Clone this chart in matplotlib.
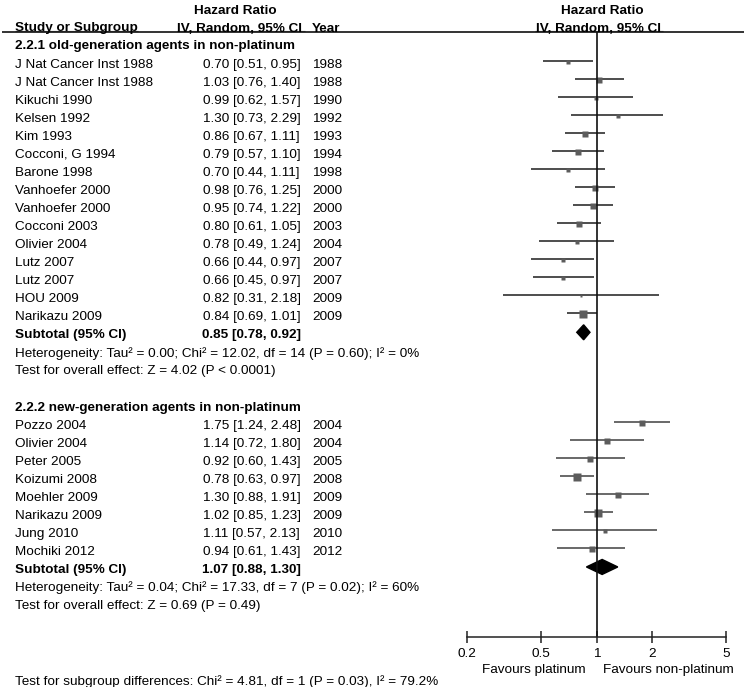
import matplotlib
matplotlib.use("Agg")
import matplotlib.pyplot as plt
from matplotlib.patches import Polygon
from matplotlib.ticker import FixedLocator, FixedFormatter, NullLocator

plt.rcParams['font.family'] = ['Liberation Sans', 'DejaVu Sans']

# ---------------- data ----------------
g1_title = "2.2.1 old-generation agents in non-platinum"
g1_names = ["J Nat Cancer Inst 1988", "J Nat Cancer Inst 1988", "Kikuchi 1990", "Kelsen 1992",
            "Kim 1993", "Cocconi, G 1994", "Barone 1998", "Vanhoefer 2000", "Vanhoefer 2000",
            "Cocconi 2003", "Olivier 2004", "Lutz 2007", "Lutz 2007", "HOU 2009", "Narikazu 2009"]
g1_hr = [0.70, 1.03, 0.99, 1.30, 0.86, 0.79, 0.70, 0.98, 0.95, 0.80, 0.78, 0.66, 0.66, 0.82, 0.84]
g1_lo = [0.51, 0.76, 0.62, 0.73, 0.67, 0.57, 0.44, 0.76, 0.74, 0.61, 0.49, 0.44, 0.45, 0.31, 0.69]
g1_hi = [0.95, 1.40, 1.57, 2.29, 1.11, 1.10, 1.11, 1.25, 1.22, 1.05, 1.24, 0.97, 0.97, 2.18, 1.01]
g1_year = [1988, 1988, 1990, 1992, 1993, 1994, 1998, 2000, 2000, 2003, 2004, 2007, 2007, 2009, 2009]
g1_weight = [3.5, 4.5, 3, 2.5, 5, 4.5, 3, 5, 5, 5, 3, 3, 3, 2, 6.5]
g1_sub = (0.85, 0.78, 0.92)
g1_het = "Heterogeneity: Tau² = 0.00; Chi² = 12.02, df = 14 (P = 0.60); I² = 0%"
g1_test = "Test for overall effect: Z = 4.02 (P < 0.0001)"

g2_title = "2.2.2 new-generation agents in non-platinum"
g2_names = ["Pozzo 2004", "Olivier 2004", "Peter 2005", "Koizumi 2008", "Moehler 2009",
            "Narikazu 2009", "Jung 2010", "Mochiki 2012"]
g2_hr = [1.75, 1.14, 0.92, 0.78, 1.30, 1.02, 1.11, 0.94]
g2_lo = [1.24, 0.72, 0.60, 0.63, 0.88, 0.85, 0.57, 0.61]
g2_hi = [2.48, 1.80, 1.43, 0.97, 1.91, 1.23, 2.13, 1.43]
g2_year = [2004, 2004, 2005, 2008, 2009, 2009, 2010, 2012]
g2_weight = [5, 4, 4, 6.5, 5, 6, 3, 5]
g2_sub = (1.07, 0.88, 1.30)
g2_het = "Heterogeneity: Tau² = 0.04; Chi² = 17.33, df = 7 (P = 0.02); I² = 60%"
g2_test = "Test for overall effect: Z = 0.69 (P = 0.49)"

subgroup_test = "Test for subgroup differences: Chi² = 4.81, df = 1 (P = 0.03), I² = 79.2%"
ticks = [0.2, 0.5, 1, 2, 5]
tick_labels = ["0.2", "0.5", "1", "2", "5"]
fav_left = "Favours platinum"
fav_right = "Favours non-platinum"

# ---------------- layout ----------------
W, H = 747, 687
fig = plt.figure(figsize=(W / 100, H / 100), dpi=100)
tax = fig.add_axes([0, 0, 1, 1])
tax.set_xlim(0, W)
tax.set_ylim(H, 0)
tax.axis('off')

x0, x1 = 467.4, 726.0
fax = fig.add_axes([x0 / W, 0, (x1 - x0) / W, 1])
fax.patch.set_alpha(0)
fax.set_xscale('log')
fax.set_xlim(0.2, 5)
fax.set_ylim(H, 0)

FS = 9.7
TXT = '#000000'
ROW0 = 44.5
STEP = 18.05
DY = 4.0   # marks sit slightly above text centre
TY = 2.0   # text nudge down
AXIS_Y = 637.3
TOP_Y = 32.3


def ry(i):
    return ROW0 + i * STEP


def txt(x, y, s, bold=False, ha='left'):
    return tax.text(x, y + TY, s, fontsize=FS, color=TXT, ha=ha, va='center',
                    fontweight='bold' if bold else 'normal')


# header
txt(235, 9.5, "Hazard Ratio", bold=True, ha='center')
txt(15, 26.5, "Study or Subgroup", bold=True)
txt(177, 26.5, "IV, Random, 95% CI", bold=True)
txt(312, 26.5, "Year", bold=True)
txt(602, 9.5, "Hazard Ratio", bold=True, ha='center')
txt(599, 26.5, "IV, Random, 95% CI", bold=True, ha='center')
tax.plot([2, 744], [TOP_Y, TOP_Y], color='#111', lw=1.2, solid_capstyle='butt')
# underlines of header texts
for xa, xb in [(15, 138), (177, 305), (535, 663)]:
    tax.plot([xa, xb], [30.8, 30.8], color='#222', lw=0.8, solid_capstyle='butt')


def draw_group(start, title, names, hr, lo, hi, years, weight, sub, het, test, lc):
    txt(15, ry(start), title, bold=True)
    for k, (n, e, l, h, yv, w) in enumerate(zip(names, hr, lo, hi, years, weight)):
        y = ry(start + 1 + k)
        txt(15, y, n)
        txt(203, y, f"{e:.2f} [{l:.2f}, {h:.2f}]")
        txt(312, y, str(yv))
        fax.plot([l, h], [y + TY - DY, y + TY - DY], color=lc, lw=1.1,
                 solid_capstyle='butt', clip_on=False)
        fax.plot([e], [y + TY - DY + 1.2], marker='s', ms=w * 0.95, color='#5c5c5c', mec='none',
                 linestyle='none', clip_on=False)
    ys = ry(start + 1 + len(names))
    txt(15, ys, "Subtotal (95% CI)", bold=True)
    txt(202, ys, f"{sub[0]:.2f} [{sub[1]:.2f}, {sub[2]:.2f}]", bold=True)
    yd = ys + TY - DY + 1
    fax.add_patch(Polygon([(sub[1], yd), (sub[0], yd - 7.5), (sub[2], yd), (sub[0], yd + 7.5)],
                          closed=True, color='black', clip_on=False))
    txt(15, ry(start + 2 + len(names)), het)
    txt(15, ry(start + 3 + len(names)), test)


draw_group(0, g1_title, g1_names, g1_hr, g1_lo, g1_hi, g1_year, g1_weight, g1_sub, g1_het, g1_test, '#1c1c1c')
draw_group(20, g2_title, g2_names, g2_hr, g2_lo, g2_hi, g2_year, g2_weight, g2_sub, g2_het, g2_test, '#404040')

# vertical line of no effect
fax.vlines(1, TOP_Y, AXIS_Y, color='#111', lw=1.2)

# axis
for s in ['top', 'left', 'right']:
    fax.spines[s].set_visible(False)
fax.spines['bottom'].set_position(('data', AXIS_Y))
fax.spines['bottom'].set_linewidth(1.1)
fax.spines['bottom'].set_color('#222')
fax.yaxis.set_major_locator(NullLocator())
fax.xaxis.set_major_locator(FixedLocator(ticks))
fax.xaxis.set_major_formatter(FixedFormatter(tick_labels))
fax.xaxis.set_minor_locator(NullLocator())
fax.tick_params(axis='x', direction='inout', length=9, width=1.1, color='#222',
                labelsize=FS, labelcolor=TXT, pad=3)

tax.text(586, 670, fav_left, fontsize=FS, color=TXT, ha='right', va='center')
tax.text(603, 670, fav_right, fontsize=FS, color=TXT, ha='left', va='center')

txt(15, 680, subgroup_test)

fig.savefig("out.png", dpi=100)
